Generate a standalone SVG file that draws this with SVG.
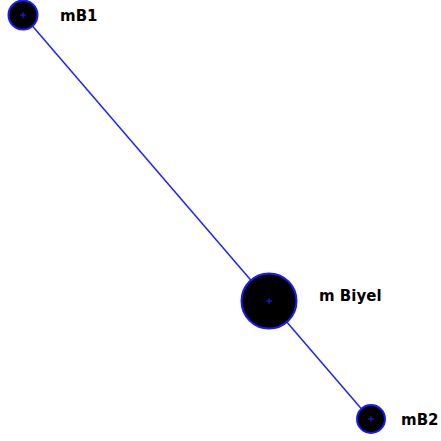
<svg xmlns="http://www.w3.org/2000/svg" width="441" height="441" viewBox="0 0 441 441">
<style>
.m{fill:#000;stroke:#1a1aff;stroke-width:2}
.c{stroke:#2020ff;stroke-width:1}
.t{font-family:"DejaVu Sans",sans-serif;font-weight:bold;font-size:15px;fill:#000}
.l{stroke:#2020ff;stroke-width:1.5;fill:none}
</style>
<rect width="441" height="441" fill="#fff"/>
<g id="connectors">
<line class="l" x1="23" y1="15" x2="371" y2="420"/>
</g>
<g id="mB1">
<circle class="m" cx="23" cy="15" r="14.5"/>
<path class="c" d="M20 15h6M23 12v6"/>
<text class="t" x="60" y="21">mB1</text>
</g>
<g id="mBiyel">
<circle class="m" cx="269" cy="301" r="27.5"/>
<path class="c" d="M266 301h6M269 298v6"/>
<text class="t" x="319" y="301">m Biyel</text>
</g>
<g id="mB2">
<circle class="m" cx="371" cy="419" r="14"/>
<path class="c" d="M368 419h6M371 416v6"/>
<text class="t" x="401" y="425">mB2</text>
</g>
</svg>
